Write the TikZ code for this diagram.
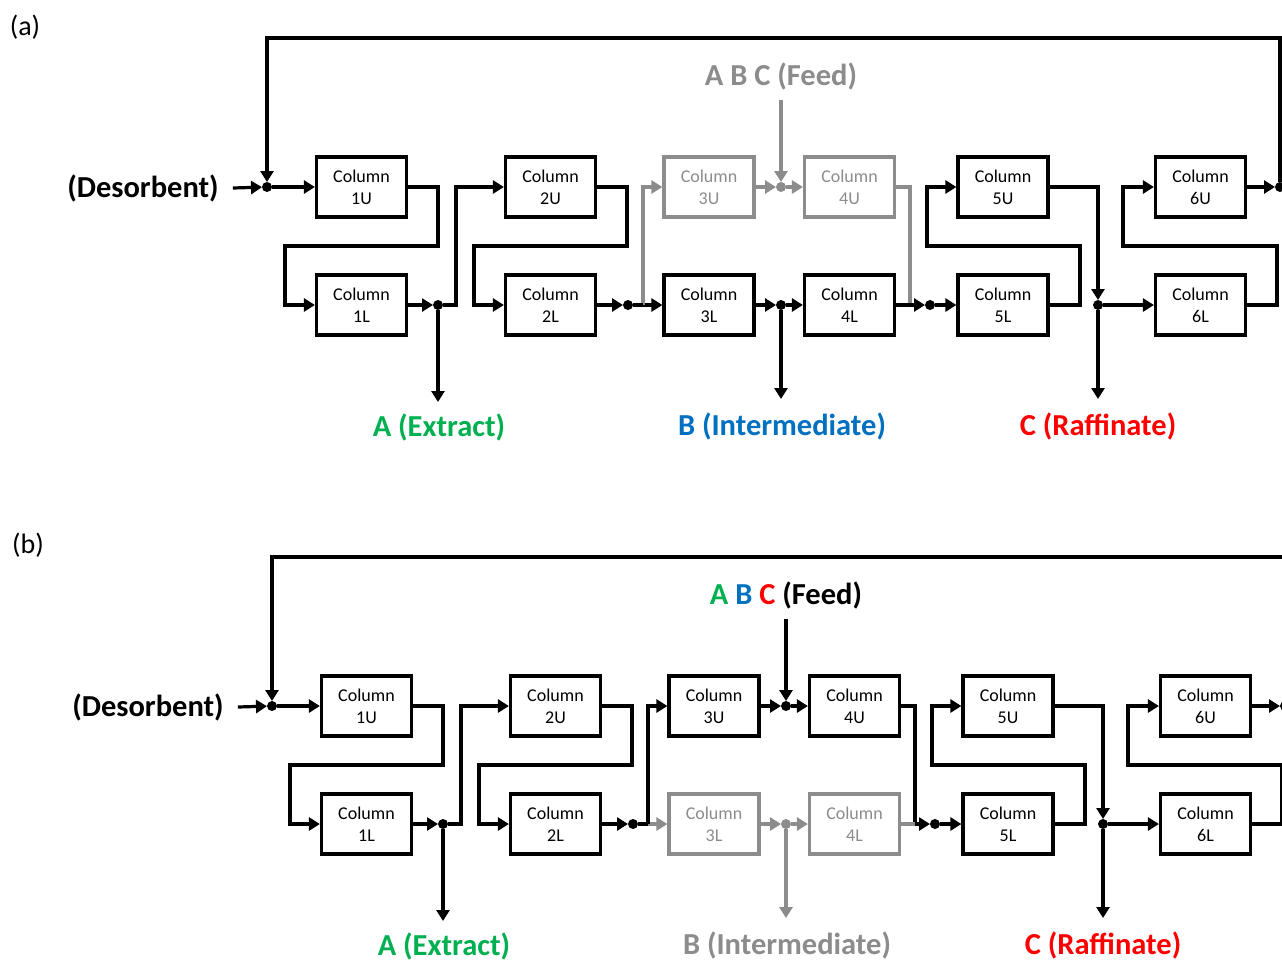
\documentclass[tikz,border=0pt]{standalone}
\usepackage{fontspec}
\setmainfont{Carlito}
\usetikzlibrary{arrows.meta}
\definecolor{ext}{RGB}{0,176,80}
\definecolor{mid}{RGB}{0,112,192}
\definecolor{raf}{RGB}{255,0,0}
\definecolor{dim}{RGB}{140,140,140}

\tikzset{
  flow/.style={line width=3.2pt},
  arr/.style={flow, -{Triangle[length=11pt,width=13pt]}},
  colbox/.style={draw, line width=3.2pt, minimum width=90pt, minimum height=60pt,
    inner sep=0pt, align=center, font=\fontsize{18}{22}\selectfont},
  streamlabel/.style={font=\bfseries\fontsize{30.5}{36}\selectfont, inner sep=0pt},
  panellabel/.style={font=\fontsize{28}{34}\selectfont, inner sep=0pt},
  junction/.style={circle, fill, inner sep=0pt, outer sep=0pt, minimum size=10pt}
}

% One six-zone unit.
% #1 name prefix, #2 colour of the 3U/4U branch, #3 colour of the 3L/4L branch,
% #4 feed text, #5 intermediate text
\newcommand\smbpanel[5]{%
  % columns
  \node[colbox] (#1c1U) at (361.5,187) {Column\\1U};
  \node[colbox] (#1c1L) at (361.5,305) {Column\\1L};
  \node[colbox] (#1c2U) at (550.5,187) {Column\\2U};
  \node[colbox] (#1c2L) at (550.5,305) {Column\\2L};
  \node[colbox, #2] (#1c3U) at (709,187) {Column\\3U};
  \node[colbox, #3] (#1c3L) at (709,305) {Column\\3L};
  \node[colbox, #2] (#1c4U) at (849.5,187) {Column\\4U};
  \node[colbox, #3] (#1c4L) at (849.5,305) {Column\\4L};
  \node[colbox] (#1c5U) at (1003,187) {Column\\5U};
  \node[colbox] (#1c5L) at (1003,305) {Column\\5L};
  \node[colbox] (#1c6U) at (1200.5,187) {Column\\6U};
  \node[colbox] (#1c6L) at (1200.5,305) {Column\\6L};
  % junctions
  \node[junction] (#1jD) at (267,187) {};
  \node[junction] (#1j1) at (438,305) {};
  \node[junction] (#1j2) at (628,305) {};
  \node[junction, #2] (#1jF) at (781,187) {};
  \node[junction, #3] (#1jB) at (781,305) {};
  \node[junction] (#1j5) at (930,305) {};
  \node[junction] (#1jC) at (1098,305) {};
  \node[junction] (#1jR) at (1280,187) {};
  % bends and free ends
  \coordinate (#1tl) at (267,38);
  \coordinate (#1tr) at (1280,38);
  \coordinate (#1r1) at (438,246);
  \coordinate (#1l1) at (285,246);
  \coordinate (#1k1) at (456,305);
  \coordinate (#1r2) at (627,246);
  \coordinate (#1l2) at (474,246);
  \coordinate (#1b3) at (643,305);
  \coordinate (#1m4) at (910,305);
  \coordinate (#1r5) at (1080,246);
  \coordinate (#1l5) at (927,246);
  \coordinate (#1r6) at (1277,246);
  \coordinate (#1l6) at (1123,246);
  \coordinate (#1fd) at (781,100);
  \coordinate (#1oA) at (438,402);
  \coordinate (#1oB) at (781,399);
  \coordinate (#1oC) at (1098,399);
  % stream labels
  \node[streamlabel] (#1des) at (143,188) {(Desorbent)};
  \node[streamlabel, text=ext] (#1A) at (439,427.5) {A (Extract)};
  \node[streamlabel] (#1B) at (782,426) {#5};
  \node[streamlabel, text=raf] (#1C) at (1098,426) {C (Raffinate)};
  \node[streamlabel] (#1F) at (781,76) {#4};
  % desorbent inlet and recycle loop
  \draw[arr] ([xshift=14pt]#1des.east) -- (#1jD);
  \draw[arr] (#1jR) -- (#1tr) -- (#1tl) -- (#1jD);
  \draw[arr] (#1jD) -- (#1c1U.west);
  % zone 1
  \draw[arr] (#1c1U.east) -| (#1r1) -- (#1l1) |- (#1c1L.west);
  \draw[arr] (#1c1L.east) -- (#1j1);
  \draw[arr] (#1j1) -- (#1oA);
  \draw[arr] (#1j1) -- (#1k1) |- (#1c2U.west);
  % zone 2
  \draw[arr] (#1c2U.east) -| (#1r2) -- (#1l2) |- (#1c2L.west);
  \draw[arr] (#1c2L.east) -- (#1j2);
  \draw[arr, #3] (#1b3) -- (#1c3L.west);
  \draw[arr, #2] (#1b3) |- (#1c3U.west);
  \draw[flow] (#1j2) -- (#1b3);
  % zones 3 and 4
  \draw[arr, #2] (#1c3U.east) -- (#1jF);
  \draw[arr, #2] (#1fd) -- (#1jF);
  \draw[arr, #2] (#1jF) -- (#1c4U.west);
  \draw[arr, #3] (#1c3L.east) -- (#1jB);
  \draw[arr, #3] (#1jB) -- (#1c4L.west);
  \draw[arr, #3] (#1jB) -- (#1oB);
  \draw[flow, #2] (#1c4U.east) -| (#1m4);
  \draw[flow, #3] (#1c4L.east) -- (#1m4);
  \draw[arr] (#1m4) -- (#1j5);
  % zone 5
  \draw[arr] (#1j5) -- (#1c5L.west);
  \draw[arr] (#1c5L.east) -| (#1r5) -- (#1l5) |- (#1c5U.west);
  \draw[arr] (#1c5U.east) -| (#1jC);
  \draw[arr] (#1jC) -- (#1oC);
  \draw[arr] (#1jC) -- (#1c6L.west);
  % zone 6
  \draw[arr] (#1c6L.east) -| (#1r6) -- (#1l6) |- (#1c6U.west);
  \draw[arr] (#1c6U.east) -- (#1jR);
}

\begin{document}
\begin{tikzpicture}[x=1pt, y=-1pt]
  \useasboundingbox[fill=white] (0,0) rectangle (1282,962);

  \node[panellabel] (pa) at (25,27) {(a)};
  \smbpanel{a}{dim}{black}{\textcolor{dim}{A B C (Feed)}}{\textcolor{mid}{B (Intermediate)}}

  \node[panellabel] (pb) at (28,545) {(b)};
  \begin{scope}[shift={(5,519)}]
    \smbpanel{b}{black}{dim}%
      {\textcolor{ext}{A} \textcolor{mid}{B} \textcolor{raf}{C} (Feed)}%
      {\textcolor{dim}{B (Intermediate)}}
  \end{scope}
\end{tikzpicture}
\end{document}
